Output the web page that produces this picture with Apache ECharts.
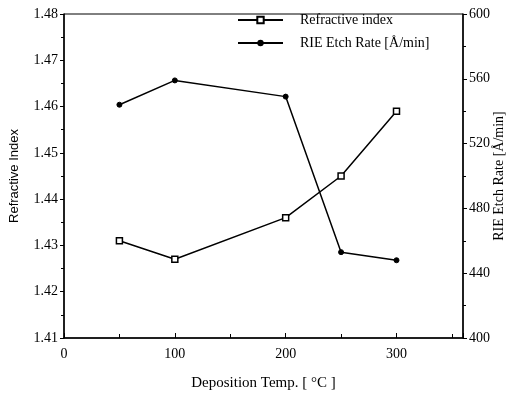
<!DOCTYPE html>
<html>
<head>
<meta charset="utf-8">
<script src="https://cdn.jsdelivr.net/npm/echarts@6/dist/echarts.min.js"></script>
<style>
  html, body { margin: 0; padding: 0; background: #fff; }
  #chart { width: 513px; height: 394px; }
</style>
</head>
<body>
<div id="chart"></div>
<script>
// deposition temperature, C
const temps = [50, 100, 200, 250, 300];
const refractiveIndex = [1.431, 1.427, 1.436, 1.445, 1.459];
const etchRate = [544, 559, 549, 453, 448];

const font = 'Liberation Serif';
const black = '#000';

const pairs = (xs, ys) => xs.map((x, i) => [x, ys[i]]);

const chart = echarts.init(document.getElementById('chart'));
chart.setOption({
    animation: false,
    textStyle: { fontFamily: font, color: black },
    grid: {
        left: 64, right: 50, top: 14, bottom: 56,
        outerBoundsMode: 'none',
        show: true, borderColor: black, borderWidth: 1
    },
    legend: {
        orient: 'vertical',
        left: 237, top: 13, padding: 0,
        itemWidth: 45, itemHeight: 8, itemGap: 9,
        textStyle: { fontFamily: font, fontSize: 14, color: black, padding: [0, 0, 0, 12] },
        data: ['Refractive index', 'RIE Etch Rate [\u00c5/min]']
    },
    xAxis: {
        type: 'value', min: 0, max: 360, interval: 100,
        name: 'Deposition Temp. [ \u00b0C ]', nameLocation: 'middle', nameGap: 38,
        nameTextStyle: { fontFamily: font, fontSize: 15, color: black },
        axisLine: { lineStyle: { color: black, width: 1.5 } },
        axisTick: { inside: true, length: 5, lineStyle: { color: black } },
        minorTick: { show: true, splitNumber: 2, length: 4, lineStyle: { color: black } },
        axisLabel: { fontFamily: font, fontSize: 14, color: black, margin: 9, showMaxLabel: false },
        splitLine: { show: false }
    },
    yAxis: [{
        type: 'value', min: 1.41, max: 1.48, interval: 0.01,
        name: 'Refractive Index', nameLocation: 'middle', nameGap: 43,
        nameTextStyle: { fontFamily: 'Liberation Sans', fontSize: 13, color: black },
        axisLine: { show: true, lineStyle: { color: black, width: 1.5 } },
        axisTick: { length: 4, lineStyle: { color: black } },
        minorTick: { show: true, splitNumber: 2, length: 3, lineStyle: { color: black } },
        axisLabel: { fontFamily: font, fontSize: 14, color: black, margin: 6,
            formatter: v => v.toFixed(2) },
        splitLine: { show: false }
    }, {
        type: 'value', min: 400, max: 600, interval: 40,
        name: 'RIE Etch Rate [\u00c5/min]', nameLocation: 'middle', nameGap: 36,
        nameRotate: 90, nameMoveOverlap: false,
        nameTextStyle: { fontFamily: font, fontSize: 14, color: black,
            align: 'center', verticalAlign: 'middle' },
        axisLine: { show: true, lineStyle: { color: black, width: 1.5 } },
        axisTick: { length: 4, lineStyle: { color: black } },
        minorTick: { show: true, splitNumber: 2, length: 3, lineStyle: { color: black } },
        axisLabel: { fontFamily: font, fontSize: 14, color: black, margin: 6 },
        splitLine: { show: false }
    }],
    series: [{
        name: 'Refractive index',
        type: 'line',
        yAxisIndex: 0,
        data: pairs(temps, refractiveIndex),
        symbol: 'rect', symbolSize: 6,
        itemStyle: { color: '#fff', borderColor: black, borderWidth: 1.5 },
        lineStyle: { color: black, width: 1.5 }
    }, {
        name: 'RIE Etch Rate [\u00c5/min]',
        type: 'line',
        yAxisIndex: 1,
        data: pairs(temps, etchRate),
        symbol: 'circle', symbolSize: 5,
        itemStyle: { color: black, borderColor: black },
        lineStyle: { color: black, width: 1.5 }
    }]
});
</script>
</body>
</html>
